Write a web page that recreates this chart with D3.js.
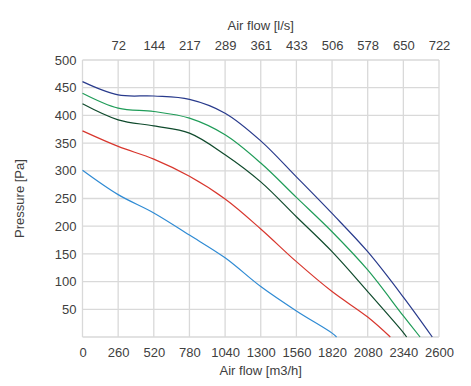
<!DOCTYPE html>
<html><head><meta charset="utf-8">
<script src="https://cdn.jsdelivr.net/npm/d3@7"></script>
<style>
body{margin:0;background:#fff;}
text{font-family:"Liberation Sans",Arial,sans-serif;}
</style></head>
<body><svg id="c" width="471" height="386"></svg>
<script>
const xTicksBottom = [0,260,520,780,1040,1300,1560,1820,2080,2340,2600];
const xTicksTop = [260,520,780,1040,1300,1560,1820,2080,2340,2600];
const topLabels = ["72","144","217","289","361","433","506","578","650","722"];
const yTicks = [50,100,150,200,250,300,350,400,450,500];

const flowNavy = [0,260,520,780,1040,1300,1560,1820,2080,2340,2551];
const presNavy = [461,437,435,429,404,354,289,223,154,72,0];
const flowGreen = [0,260,520,780,1040,1300,1560,1820,2080,2340,2462];
const presGreen = [440,413,407,395,365,314,252,190,121,38,0];
const flowDark = [0,260,520,780,1040,1300,1560,1820,2080,2340,2364];
const presDark = [421,392,381,368,329,280,217,154,82,8,0];
const flowRed = [0,260,520,780,1040,1300,1560,1820,2080,2245];
const presRed = [372,344,321,290,249,195,136,82,36,0];
const flowBlue = [0,260,520,780,1040,1300,1560,1820,1853];
const presBlue = [301,257,224,184,143,91,47,7,0];

const series = [
  {f:flowBlue, p:presBlue, color:"#2f8bd4"},
  {f:flowRed, p:presRed, color:"#d8362d"},
  {f:flowDark, p:presDark, color:"#0f4a2c"},
  {f:flowGreen, p:presGreen, color:"#1f9c58"},
  {f:flowNavy, p:presNavy, color:"#283a8c"}
];

const svg = d3.select("#c");
const L=82.5, R=439, T=60, B=337;
const x = d3.scaleLinear().domain([0,2600]).range([L,R]);
const y = d3.scaleLinear().domain([0,500]).range([B,T]);
const grid = "#d9d9d9", txt = "#404040";

svg.append("g").selectAll("line").data(xTicksBottom).join("line")
  .attr("x1",d=>x(d)).attr("x2",d=>x(d)).attr("y1",T).attr("y2",B)
  .attr("stroke",grid).attr("stroke-width",1.3);
svg.append("g").selectAll("line").data([0].concat(yTicks)).join("line")
  .attr("y1",d=>y(d)).attr("y2",d=>y(d)).attr("x1",L).attr("x2",R)
  .attr("stroke",grid).attr("stroke-width",1.3);

const ax = svg.append("g").attr("transform",`translate(0,${B})`)
  .call(d3.axisBottom(x).tickValues(xTicksBottom).tickSize(0).tickPadding(11).tickFormat(d3.format("d")));
const at = svg.append("g").attr("transform",`translate(0,${T})`)
  .call(d3.axisTop(x).tickValues(xTicksTop).tickSize(0).tickPadding(10).tickFormat((d,i)=>topLabels[i]));
const ay = svg.append("g").attr("transform",`translate(${L},0)`)
  .call(d3.axisLeft(y).tickValues(yTicks).tickSize(0).tickPadding(6));
[ax,at,ay].forEach(g=>{
  g.select(".domain").remove();
  g.selectAll("text").attr("fill",txt).style("font-size","13px")
    .style("font-family","'Liberation Sans',Arial,sans-serif");
});

const line = d3.line().x(d=>x(d[0])).y(d=>y(d[1])).curve(d3.curveCatmullRom.alpha(0.5));
series.forEach(s=>{
  svg.append("path").datum(s.f.map((v,i)=>[v,s.p[i]]))
    .attr("d",line).attr("fill","none").attr("stroke",s.color).attr("stroke-width",1.2);
});

svg.append("text").attr("x",(L+R)/2).attr("y",375).attr("text-anchor","middle")
  .attr("fill",txt).style("font-size","13px").text("Air flow [m3/h]");
svg.append("text").attr("x",(L+R)/2).attr("y",30).attr("text-anchor","middle")
  .attr("fill",txt).style("font-size","13px").text("Air flow [l/s]");
svg.append("text").attr("transform",`translate(24,${(T+B)/2}) rotate(-90)`).attr("text-anchor","middle")
  .attr("fill",txt).style("font-size","13px").text("Pressure [Pa]");
</script></body></html>
